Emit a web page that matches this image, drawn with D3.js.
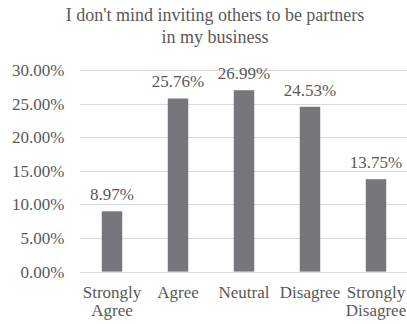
<!DOCTYPE html>
<html>
<head>
<meta charset="utf-8">
<script src="https://cdn.jsdelivr.net/npm/d3@7"></script>
<style>
  html, body { margin: 0; padding: 0; background: #fff; }
  svg { display: block; }
</style>
</head>
<body>
<svg id="chart" width="407" height="324"></svg>
<script>
// Survey responses (share of respondents)
const categories = [["Strongly", "Agree"], ["Agree"], ["Neutral"], ["Disagree"], ["Strongly", "Disagree"]];
const values = [8.97, 25.76, 26.99, 24.53, 13.75];
const tickValues = [0, 5, 10, 15, 20, 25, 30];
const titleLines = ["I don't mind inviting others to be partners", "in my business"];

const FONT = "'Liberation Serif'";
const INK = "#595959";
const LABEL_SIZE = "17px";

const svg = d3.select("#chart");
const W = 407;
const plot = { left: 79, right: 409, top: 70, bottom: 271.6 };

const keys = categories.map(c => c.join(" "));
const x = d3.scaleBand().domain(keys).range([plot.left, plot.right]).padding(0);
const y = d3.scaleLinear().domain([0, 30]).range([plot.bottom, plot.top]);
const barW = x.bandwidth() * 0.31;

// Title
svg.append("g").selectAll("text").data(titleLines).join("text")
  .attr("x", 215).attr("y", (d, i) => 21 + i * 22)
  .attr("text-anchor", "middle")
  .attr("fill", INK)
  .style("font-family", FONT)
  .style("font-size", "18px")
  .text(d => d);

// Gridlines
svg.append("g").selectAll("line").data(tickValues).join("line")
  .attr("x1", 80).attr("x2", W)
  .attr("y1", d => Math.round(y(d)) + 0.5).attr("y2", d => Math.round(y(d)) + 0.5)
  .attr("stroke", "#d9d9d9").attr("stroke-width", 1);

// Y axis labels
const yAxis = d3.axisLeft(y).tickValues(tickValues).tickSize(0).tickPadding(0)
  .tickFormat(d => d.toFixed(2) + "%");
const ya = svg.append("g").attr("transform", "translate(64.5,0)").call(yAxis);
ya.attr("font-family", null).attr("font-size", null);
ya.select(".domain").remove();
ya.selectAll("text")
  .attr("fill", INK)
  .style("font-family", FONT)
  .style("font-size", LABEL_SIZE);

// Bars
svg.append("g").selectAll("rect").data(values).join("rect")
  .attr("x", (d, i) => x(keys[i]) + x.bandwidth() / 2 - barW / 2)
  .attr("y", d => y(d))
  .attr("width", barW)
  .attr("height", d => y(0) - y(d))
  .attr("fill", "#77777b");

// Value labels
svg.append("g").selectAll("text").data(values).join("text")
  .attr("x", (d, i) => x(keys[i]) + x.bandwidth() / 2)
  .attr("y", d => y(d) - 11)
  .attr("text-anchor", "middle")
  .attr("fill", INK)
  .style("font-family", FONT)
  .style("font-size", LABEL_SIZE)
  .text(d => d.toFixed(2) + "%");

// Category labels
const cat = svg.append("g").selectAll("text").data(categories).join("text")
  .attr("x", (d, i) => x(keys[i]) + x.bandwidth() / 2)
  .attr("y", 298)
  .attr("text-anchor", "middle")
  .attr("fill", INK)
  .style("font-family", FONT)
  .style("font-size", LABEL_SIZE);
cat.selectAll("tspan").data(d => d).join("tspan")
  .attr("x", function() { return d3.select(this.parentNode).attr("x"); })
  .attr("dy", (d, i) => i === 0 ? 0 : 18)
  .text(d => d);
</script>
</body>
</html>
